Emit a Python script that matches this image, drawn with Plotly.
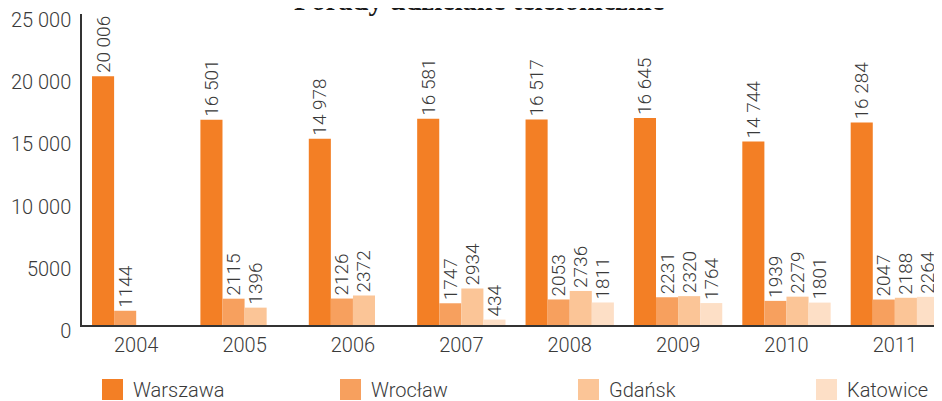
import plotly.graph_objects as go

years = ["2004", "2005", "2006", "2007", "2008", "2009", "2010", "2011"]
warszawa = [20006, 16501, 14978, 16581, 16517, 16645, 14744, 16284]
wroclaw = [1144, 2115, 2126, 1747, 2053, 2231, 1939, 2047]
gdansk = [None, 1396, 2372, 2934, 2736, 2320, 2279, 2188]
katowice = [None, None, None, 434, 1811, 1764, 1801, 2264]

y_tickvals = [0, 5000, 10000, 15000, 20000, 25000]
y_ticktext = ["0", "5000", "10 000", "15 000", "20 000", "25 000"]

series = [
    ("Warszawa", warszawa, "#F37F25"),
    ("Wrocław", wroclaw, "#F7A05E"),
    ("Gdańsk", gdansk, "#FBC597"),
    ("Katowice", katowice, "#FDDFC6"),
]


def fmt(v):
    if v is None:
        return ""
    if v >= 10000:
        return f"{v:,}".replace(",", " ")
    return str(v)


FONT = "Roboto"
TXT = "#3a3a3a"
OFF = 8  # page body margin
W, H = 942 - OFF, 401 - OFF
ML, MR = 82 - OFF, 0
MT = 14 - OFF
MB = H - (325 - OFF)
PW, PH = W - ML - MR, H - MT - MB


def px_x(p):
    return (p - OFF - ML) / PW


def px_y(p):
    return (H - MB - (p - OFF)) / PH


fig = go.Figure()
for name, vals, col in series:
    fig.add_trace(go.Bar(
        name=name, x=years, y=vals, marker_color=col, marker_line_width=0,
        text=[fmt(v) for v in vals], textposition="outside", textangle=-90,
        textfont=dict(family=FONT, size=19, color=TXT, weight=300),
        constraintext="none", cliponaxis=False, showlegend=False,
    ))

# custom legend (large square swatches like the reference)
for i, (name, vals, col) in enumerate(series):
    x0 = 102 + 238 * i
    fig.add_shape(type="rect", xref="paper", yref="paper",
                  x0=px_x(x0), x1=px_x(x0 + 21), y0=px_y(400), y1=px_y(379),
                  fillcolor=col, line_width=0)
    fig.add_annotation(text=name, xref="paper", yref="paper",
                       x=px_x(x0 + 29), y=px_y(390), xanchor="left", yanchor="middle",
                       showarrow=False,
                       font=dict(family=FONT, size=20, color=TXT, weight=300))

fig.add_annotation(
    text="<b>Porady udzielane telefonicznie</b>", xref="paper", yref="paper",
    x=px_x(479), y=1, xanchor="center", yanchor="middle", yshift=MT + OFF, showarrow=False,
    font=dict(family="Liberation Serif", size=28.5, color="#1a1a1a"),
)

fig.update_layout(
    width=W, height=H,
    barmode="group", bargap=0.185, bargroupgap=0,
    paper_bgcolor="white", plot_bgcolor="white",
    margin=dict(l=ML, r=MR, t=MT, b=MB, autoexpand=False),
    font=dict(family=FONT, size=19, color=TXT, weight=300),
    showlegend=False,
    xaxis=dict(range=[-0.5, 7.435], showline=True, linecolor="#333", linewidth=1.5,
               ticks="", showgrid=False, tickfont=dict(size=20), ticklabelstandoff=1),
    yaxis=dict(range=[0, 25000], tickvals=y_tickvals, ticktext=y_ticktext,
               showline=True, linecolor="#333", linewidth=1.5, ticks="",
               showgrid=False, zeroline=False, ticklabelstandoff=5,
               ticklabelshift=6, ticklabeloverflow="allow", tickfont=dict(size=20)),
)

fig.write_html("out.html")
